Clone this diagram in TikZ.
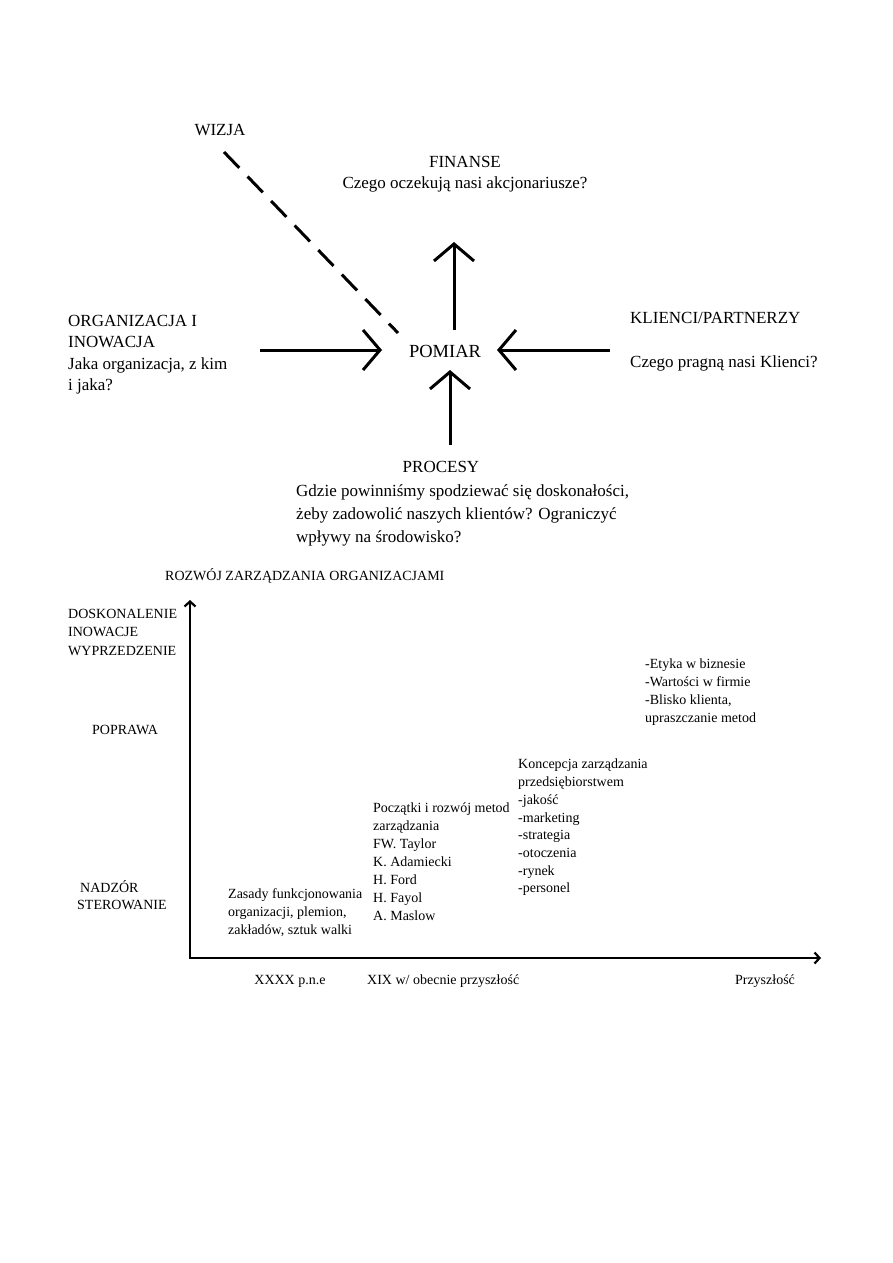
\documentclass[tikz,border=0pt]{standalone}
\usepackage{fontspec}
\setmainfont{Liberation Serif}
\usetikzlibrary{arrows.meta,positioning}
\tikzset{
  big/.style={font=\fontsize{17}{21.5}\selectfont,inner sep=0pt},
  small/.style={font=\fontsize{14}{18}\selectfont,inner sep=0pt,align=left},
  arr/.style={-{Straight Barb[length=17pt,width=40pt]},line width=3pt},
  darr/.style={line width=3pt,dash pattern=on 22pt off 12pt},
  axis/.style={{Straight Barb[length=5pt,width=11pt]}-{Straight Barb[length=5pt,width=11pt]},line width=2.2pt},
}
\begin{document}
\begin{tikzpicture}[x=1pt,y=-1pt]
  \useasboundingbox (0,0) rectangle (893,1263);
  % upper part: measurement
  \node[big,font=\fontsize{18.5}{21.5}\selectfont] (pomiar) at (445,351) {POMIAR};
  \node[big] (wizja) at (220,130) {WIZJA};
  \node[big,align=center,anchor=north] (finanse) at (465,156)
     {FINANSE\\Czego oczekują nasi akcjonariusze?};
  \node[big,align=left,anchor=north west] (org) at (68,315)
     {ORGANIZACJA I\\INOWACJA\\Jaka organizacja, z kim\\i jaka?};
  \node[big,align=left,anchor=north west] (klienci) at (630,312)
     {KLIENCI/PARTNERZY\\[22.5pt]Czego pragną nasi Klienci?};
  \node[big] (procesy) at (441,467) {PROCESY};
  \node[big,font=\fontsize{17}{23}\selectfont,align=left,anchor=north west] (procQ) at (296,484)
     {Gdzie powinniśmy spodziewać się doskonałości,\\żeby zadowolić naszych klientów? Ograniczyć\\wpływy na środowisko?};
  \coordinate (wizjaA) at (224,152);  \coordinate (wizjaB) at (398,333);
  \coordinate (finA) at (454,330);    \coordinate (finB) at (454,242);
  \coordinate (orgA) at (260,350);    \coordinate (orgB) at (382,350);
  \coordinate (kliA) at (610,350);    \coordinate (kliB) at (497,350);
  \coordinate (proA) at (450,445);    \coordinate (proB) at (450,370);
  \draw[darr] (wizjaA) -- (wizjaB);
  \draw[arr] (finA) -- (finB);
  \draw[arr] (orgA) -- (orgB);
  \draw[arr] (kliA) -- (kliB);
  \draw[arr] (proA) -- (proB);
  % lower part: chart
  \node[small,anchor=west] (title) at (165,576) {ROZWÓJ ZARZĄDZANIA ORGANIZACJAMI};
  \coordinate (origin) at (190,958);
  \coordinate (ytop) at (190,600);
  \coordinate (xend) at (821,958);
  \draw[axis] (ytop) -- (origin) -- (xend);
  \node[small,anchor=north west,font=\fontsize{14}{18.5}\selectfont] (dosk) at (68,609)
     {DOSKONALENIE\\INOWACJE\\WYPRZEDZENIE};
  \node[small] (poprawa) at (125,730) {POPRAWA};
  \node[small,anchor=north west,font=\fontsize{14}{17}\selectfont] (nadzor) at (77,880)
     {\hspace*{3pt}NADZÓR\\STEROWANIE};
  \node[small,anchor=north west] (zasady) at (228,888)
     {Zasady funkcjonowania\\organizacji, plemion,\\zakładów, sztuk walki};
  \node[small,anchor=north west] (poczatki) at (373,803)
     {Początki i rozwój metod\\zarządzania\\FW. Taylor\\K. Adamiecki\\H. Ford\\H. Fayol\\A. Maslow};
  \node[small,anchor=north west,font=\fontsize{14}{17.7}\selectfont] (koncepcja) at (518,759)
     {Koncepcja zarządzania\\przedsiębiorstwem\\-jakość\\-marketing\\-strategia\\-otoczenia\\-rynek\\-personel};
  \node[small,anchor=north west] (etyka) at (645,659)
     {-Etyka w biznesie\\-Wartości w firmie\\-Blisko klienta,\\upraszczanie metod};
  \node[small] (pne) at (290,981) {XXXX p.n.e};
  \node[small,anchor=west] (xix) at (367,981) {XIX w/ obecnie przyszłość};
  \node[small] (przyszlosc) at (765,981) {Przyszłość};
\end{tikzpicture}
\end{document}
